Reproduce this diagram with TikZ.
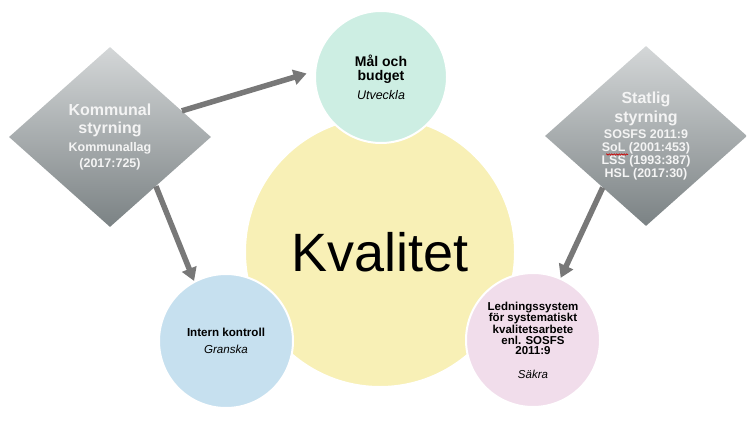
\documentclass[tikz,border=0pt]{standalone}
\usepackage{fontspec}
\setmainfont{Liberation Sans}
\usetikzlibrary{arrows.meta,shapes.geometric,decorations.pathmorphing}
\definecolor{gul}{HTML}{F8F0B6}
\definecolor{mint}{HTML}{CDEEE3}
\definecolor{blaa}{HTML}{C6E0EF}
\definecolor{rosa}{HTML}{F1DDEB}
\definecolor{pilgrau}{HTML}{787878}
\definecolor{rutljus}{HTML}{D4D7D8}
\definecolor{rutmork}{HTML}{7B8284}
\definecolor{vitt}{HTML}{F4F4F4}
\newcommand{\stl}[2]{\fontsize{#1}{#2}\selectfont}
\newcommand{\liten}{\stl{12.5}{12}}
\tikzset{
  pil/.style={-{Triangle[length=13pt,width=15pt]},pilgrau,line width=5.5pt},
  cirkel/.style={circle,draw=white,line width=2pt,inner sep=0pt,align=center},
  ruta/.style={diamond,inner sep=0pt,minimum width=202pt,minimum height=180pt,
    top color=rutljus,bottom color=rutmork,text=vitt,align=center},
  sprak/.style={red!80!black,line width=0.6pt,decorate,
    decoration={snake,amplitude=0.7pt,segment length=2.5pt}},
}

\begin{document}
\begin{tikzpicture}[x=1pt,y=-1pt]
  \useasboundingbox (0,0) rectangle (754,420);
  % cirklar
  \node[cirkel,fill=gul,minimum size=270pt,font=\stl{54}{60}] (kval) at (380,252) {Kvalitet};
  \node[cirkel,fill=mint,minimum size=132pt,font=\stl{14}{14.5}\bfseries] (mal) at (381,77)
    {Mål och\\budget\\[4pt]{\mdseries\itshape\stl{12.5}{14.5}Utveckla}};
  \node[cirkel,fill=blaa,minimum size=134pt,font=\stl{11.6}{13}\bfseries] (int) at (226,341)
    {Intern kontroll\\[4pt]{\mdseries\itshape Granska}};
  \node[cirkel,fill=rosa,minimum size=134pt,font=\stl{11.5}{10.5}\bfseries] (led) at (533,340)
    {Ledningssystem\\för systematiskt\\kvalitetsarbete\\enl. SOSFS\\2011:9\\[13pt]{\mdseries\itshape Säkra}};
  % styrning
  \node[ruta,font=\stl{16}{18}\bfseries] (kom) at (110,137)
    {Kommunal\\styrning\\{\liten Kommunallag}\\[-2pt]{\liten (2017:725)}};
  \node[ruta,font=\stl{16}{19}\bfseries] (stat) at (646,136)
    {Statlig\\styrning\\[-3pt]{\liten SOSFS 2011:9}\\[-6pt]{\liten SoL (2001:453)}\\[-6pt]{\liten LSS (1993:387)}\\[-6pt]{\liten HSL (2017:30)}};
  \draw[sprak] (606,154.5) -- (628,154.5);
  % pilar
  \draw[pil,shorten >=8pt] (kom.20) -- (mal.175);
  \draw[pil] (kom.-47) -- (int.118);
  \draw[pil] (stat.230) -- (led.66);
\end{tikzpicture}
\end{document}
